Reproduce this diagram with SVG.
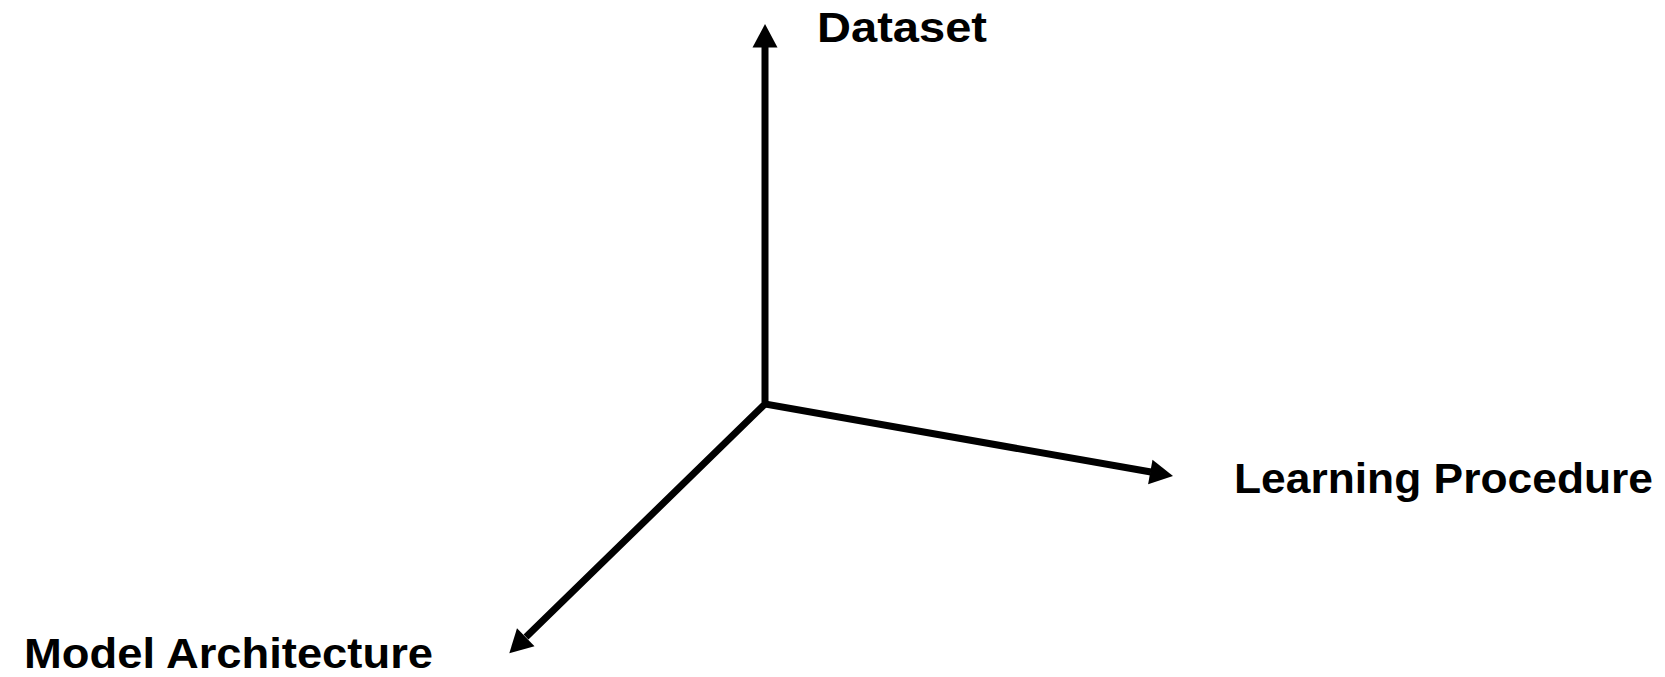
<svg xmlns="http://www.w3.org/2000/svg" width="1665" height="677" viewBox="0 0 1665 677">
<defs>
<style>
.lbl{font-family:"Liberation Sans",Arial,sans-serif;font-weight:bold;font-size:42px;fill:#000}
.ax{stroke:#000;stroke-width:7;fill:none;stroke-linejoin:miter}
.hd{fill:#000;stroke:none}
</style>
</defs>
<rect width="1665" height="677" fill="#fff"/>
<g id="connectors">
<path class="ax" d="M526,637 L765,404 L765,46"/>
<path class="ax" d="M762,403.5 L1151,472"/>
<polygon class="hd" points="765,24 777.5,47.5 752.5,47.5"/>
<polygon class="hd" points="1173,476 1148.1,484.3 1152.5,459.7"/>
<polygon class="hd" points="509.3,653.3 517,628.3 534.5,646.2"/>
</g>
<g id="dataset"><text class="lbl" x="817" y="42" textLength="170" lengthAdjust="spacingAndGlyphs">Dataset</text></g>
<g id="learning"><text class="lbl" x="1234" y="493" textLength="419" lengthAdjust="spacingAndGlyphs">Learning Procedure</text></g>
<g id="model"><text class="lbl" x="24" y="668" textLength="409" lengthAdjust="spacingAndGlyphs">Model Architecture</text></g>
</svg>
